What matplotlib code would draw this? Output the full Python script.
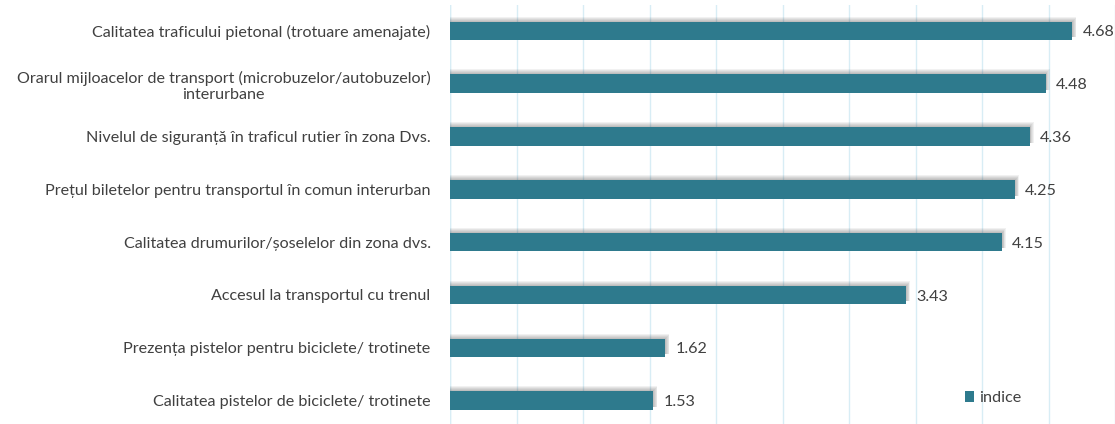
import matplotlib
matplotlib.use("Agg")
import matplotlib.pyplot as plt
from matplotlib.patches import Rectangle, Patch

categories = [
    "Calitatea traficului pietonal (trotuare amenajate)",
    "Orarul mijloacelor de transport (microbuzelor/autobuzelor)\ninterurbane",
    "Nivelul de siguranță în traficul rutier în zona Dvs.",
    "Prețul biletelor pentru transportul în comun interurban",
    "Calitatea drumurilor/șoselelor din zona dvs.",
    "Accesul la transportul cu trenul",
    "Prezența pistelor pentru biciclete/ trotinete",
    "Calitatea pistelor de biciclete/ trotinete",
]
values = [4.68, 4.48, 4.36, 4.25, 4.15, 3.43, 1.62, 1.53]
series_name = "indice"

BAR_COLOR = "#2E7A8D"
GRID_COLOR = "#D8EDF5"
TEXT_COLOR = "#404040"
FONT = "Lato"
FS = 11.6

fig = plt.figure(figsize=(11.15, 4.24), dpi=100)
ax = fig.add_axes([450 / 1115, -3 / 424, 665 / 1115, 422.5 / 424])

n = len(categories)
ys = list(range(n))
bar_h = 0.35
px_x = 5.0 / 665   # one pixel in data units along x
px_y = 8.0 / 422.5  # one pixel in data units along y

# soft drop shadow, strongest just above and to the right of each bar
for y, v in zip(ys, values):
    for i in range(1, 6):
        ax.add_patch(Rectangle((0, y - bar_h / 2 - i * px_y),
                               v + i * 0.8 * px_x, bar_h + (i - 3) * px_y,
                               facecolor="#000000", alpha=0.055,
                               edgecolor="none", zorder=2))

ax.barh(ys, values, height=bar_h, color=BAR_COLOR, zorder=3)

for y, v in zip(ys, values):
    ax.text(v + 0.075, y + 0.03, f"{v:.2f}", va="center", ha="left",
            fontsize=FS, color=TEXT_COLOR, family=FONT)

ax.set_xlim(0, 5)
ax.set_ylim(n - 0.5, -0.5)
ax.set_xticks([i * 0.5 for i in range(11)])
ax.grid(axis="x", color=GRID_COLOR, linewidth=1.0, zorder=0)
ax.tick_params(axis="x", length=0, labelbottom=False)
ax.tick_params(axis="y", length=0, pad=14)
ax.set_yticks(ys)
ax.set_yticklabels(categories, fontsize=FS, color=TEXT_COLOR, family=FONT)
for lbl in ax.get_yticklabels():
    lbl.set_multialignment("center")
for s in ax.spines.values():
    s.set_visible(False)
ax.axvline(0, color=GRID_COLOR, linewidth=1.0, zorder=1)

leg = ax.legend(handles=[Patch(facecolor=BAR_COLOR, label=series_name)],
                loc="center left", bbox_to_anchor=(0.752, 0.068), frameon=False,
                handlelength=0.6, handleheight=0.6, handletextpad=0.3,
                prop={"family": FONT, "size": FS})
for t in leg.get_texts():
    t.set_color(TEXT_COLOR)

fig.savefig("out.png", dpi=100)
